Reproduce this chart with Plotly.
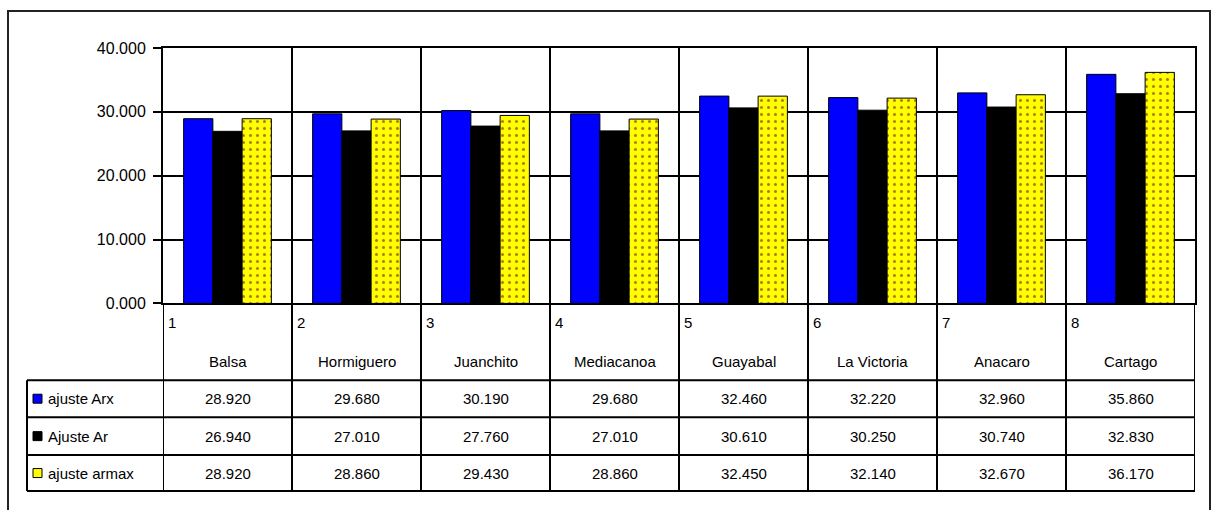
import plotly.graph_objects as go

W, H = 1218, 510

categories = ["Balsa", "Hormiguero", "Juanchito", "Mediacanoa", "Guayabal", "La Victoria", "Anacaro", "Cartago"]
numbers = ["1", "2", "3", "4", "5", "6", "7", "8"]
series_names = ["ajuste Arx", "Ajuste Ar", "ajuste armax"]
ajuste_arx = [28.920, 29.680, 30.190, 29.680, 32.460, 32.220, 32.960, 35.860]
ajuste_ar = [26.940, 27.010, 27.760, 27.010, 30.610, 30.250, 30.740, 32.830]
ajuste_armax = [28.920, 28.860, 29.430, 28.860, 32.450, 32.140, 32.670, 36.170]
y_ticks = [0, 10, 20, 30, 40]

series_values = [ajuste_arx, ajuste_ar, ajuste_armax]
colors = ["#0000ff", "#000000", "#ffff00"]

# observed rendering: paper drawn from screen y=8 over ~494 px
OFF, HH = 8, 494

def px(x):
    return x / W

def py(y):
    return 1 - (y - OFF) / HH

FONT = "Liberation Sans, Arial, sans-serif"

fig = go.Figure()
for name, vals, col in zip(series_names, series_values, colors):
    marker = dict(color=col, line=dict(color="#000000", width=1))
    if name == "ajuste armax":
        marker["pattern"] = dict(shape=".", fgcolor="#b07810", bgcolor="#ffff00",
                                 size=7, solidity=0.15, fillmode="replace")
    fig.add_trace(go.Bar(x=categories, y=vals, name=name, marker=marker))

plot_l, plot_r, plot_t, plot_b = 163, 1195, 48, 304
row_lines = [381, 418, 456, 492]
table_left = 27

shapes = []
shapes.append(dict(type="rect", xref="paper", yref="paper", x0=px(8), x1=px(1210),
                   y0=py(540), y1=py(11), line=dict(color="#222222", width=2), layer="below"))
for i in range(len(categories) + 1):
    shapes.append(dict(type="line", xref="x", yref="paper", x0=i - 0.5, x1=i - 0.5,
                       y0=py(plot_b), y1=py(row_lines[-1]), line=dict(color="#000000", width=2)))
for r in row_lines:
    shapes.append(dict(type="line", xref="paper", yref="paper", x0=px(table_left), x1=px(plot_r),
                       y0=py(r), y1=py(r), line=dict(color="#000000", width=2)))
shapes.append(dict(type="line", xref="paper", yref="paper", x0=px(table_left), x1=px(table_left),
                   y0=py(row_lines[0]), y1=py(row_lines[-1]), line=dict(color="#000000", width=2)))

annotations = []
for i, (n, c) in enumerate(zip(numbers, categories)):
    annotations.append(dict(x=i - 0.5, y=py(323), xref="x", yref="paper", text=n,
                            showarrow=False, xanchor="left", yanchor="middle", xshift=3,
                            font=dict(family=FONT, size=15, color="#000000")))
    annotations.append(dict(x=i, y=py(362), xref="x", yref="paper", text=c,
                            showarrow=False, xanchor="center", yanchor="middle",
                            font=dict(family=FONT, size=15, color="#000000")))
for r, (name, vals, col) in enumerate(zip(series_names, series_values, colors)):
    yc = (row_lines[r] + row_lines[r + 1]) / 2
    for i, v in enumerate(vals):
        annotations.append(dict(x=i, y=py(yc), xref="x", yref="paper", text=f"{v:.3f}",
                                showarrow=False, xanchor="center", yanchor="middle",
                                font=dict(family=FONT, size=15, color="#000000")))
    annotations.append(dict(x=px(46), y=py(yc), xref="paper", yref="paper", text=name,
                            showarrow=False, xanchor="left", yanchor="middle",
                            font=dict(family=FONT, size=15, color="#000000")))
    shapes.append(dict(type="rect", xref="paper", yref="paper", x0=px(33), x1=px(42),
                       y0=py(yc + 4.5), y1=py(yc - 4.5), fillcolor=col,
                       line=dict(color="#000000", width=1)))

fig.update_layout(
    width=W, height=H,
    margin=dict(l=0, r=0, t=0, b=0),
    paper_bgcolor="#ffffff", plot_bgcolor="#ffffff",
    barmode="group", bargap=0.32, bargroupgap=0,
    showlegend=False,
    shapes=shapes, annotations=annotations,
    font=dict(family=FONT, size=15, color="#000000"),
    xaxis=dict(domain=[px(plot_l), px(plot_r)], range=[-0.5, len(categories) - 0.5],
               type="category", tickson="boundaries", showgrid=True, gridcolor="#000000",
               gridwidth=2, showticklabels=False, ticks="", showline=True, linecolor="#000000",
               linewidth=2, mirror=True, zeroline=False),
    yaxis=dict(domain=[py(plot_b), py(plot_t)], range=[0, 40], tickvals=y_ticks,
               tickformat=".3f", showgrid=True, gridcolor="#000000", gridwidth=1.5,
               ticks="outside", ticklen=8, tickcolor="#000000", tickwidth=1.5,
               ticklabelstandoff=4,
               tickfont=dict(family=FONT, size=16, color="#000000"),
               showline=True, linecolor="#000000", linewidth=2, mirror=True, zeroline=False),
)

fig.write_html("out.html",
               post_script="document.body.style.margin='0';document.body.style.overflow='hidden';")
